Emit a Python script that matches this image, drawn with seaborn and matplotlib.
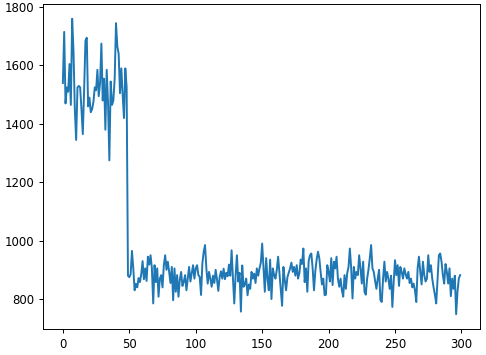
import matplotlib
matplotlib.use("Agg")
import matplotlib.pyplot as plt
import seaborn as sns
import numpy as np

# values, index 0..299
seg_high = [1540, 1715, 1470, 1525, 1510, 1605, 1465, 1760, 1650, 1450,
            1345, 1525, 1530, 1525, 1450, 1365, 1515, 1685, 1695, 1460,
            1490, 1440, 1450, 1475, 1525, 1515, 1585, 1495, 1540, 1675,
            1480, 1555, 1380, 1585, 1470, 1275, 1545, 1465, 1480, 1555,
            1745, 1665, 1640, 1505, 1590, 1500, 1420, 1590, 1525]
seg_low = [880,
           875, 885, 965, 905, 830, 852, 840, 872, 858, 885,
           930, 868, 905, 862, 945, 918, 950, 905, 785, 916,
           858, 905, 808, 870, 882, 840, 916, 950, 900, 928,
           893, 855, 910, 796, 905, 825, 882, 808, 865, 893,
           845, 859, 882, 830, 870, 910, 860, 887, 916, 870,
           905, 916, 882, 876, 814, 922, 962, 985, 905, 853,
           893, 870, 842, 880, 855, 900, 868, 828, 875, 895,
           870, 904, 868, 890, 878, 918, 880, 967, 872, 785,
           880, 950, 860, 890, 757, 915, 842, 850, 870, 813,
           850, 835, 893, 870, 887, 855, 905, 880, 905, 925,
           990, 905, 825, 940, 870, 830, 935, 800, 905, 882,
           870, 900, 945, 888, 835, 777, 910, 865, 830, 875,
           890, 905, 925, 893, 910, 880, 916, 870, 888, 935,
           920, 973, 858, 905, 825, 930, 950, 956, 905, 830,
           895, 935, 962, 940, 893, 850, 870, 813, 815, 916,
           893, 860, 940, 848, 928, 905, 945, 870, 842, 870,
           830, 808, 882, 835, 888, 910, 973, 905, 802, 910,
           870, 893, 882, 950, 905, 853, 928, 825, 815, 870,
           900, 940, 985, 905, 893, 862, 835, 870, 900, 797,
           790, 870, 928, 860, 893, 870, 835, 880, 773, 860,
           933, 882, 916, 845, 910, 893, 870, 905, 885, 870,
           893, 855, 870, 840, 853, 830, 790, 905, 945, 893,
           850, 928, 882, 860, 870, 950, 893, 916, 870, 840,
           815, 785, 870, 950, 956, 928, 882, 853, 920, 893,
           853, 905, 810, 870, 835, 880, 748, 825, 870, 882]

values = seg_high + seg_low
index = list(range(len(values)))

fig = plt.figure(figsize=(4.86, 3.55), dpi=100)
ax = fig.add_axes([43/486, 1 - 329/355, (480 - 43)/486, (329 - 4)/355])
sns.lineplot(x=index, y=values, ax=ax, color="#1f77b4", linewidth=1.4)
ax.set_xticks([0, 50, 100, 150, 200, 250, 300])
ax.set_yticks([800, 1000, 1200, 1400, 1600, 1800])
ax.tick_params(labelsize=8.5, length=3, width=0.7)
for s in ax.spines.values():
    s.set_linewidth(0.7)
ax.set_xlabel("")
ax.set_ylabel("")
fig.savefig("out.png", dpi=100)
